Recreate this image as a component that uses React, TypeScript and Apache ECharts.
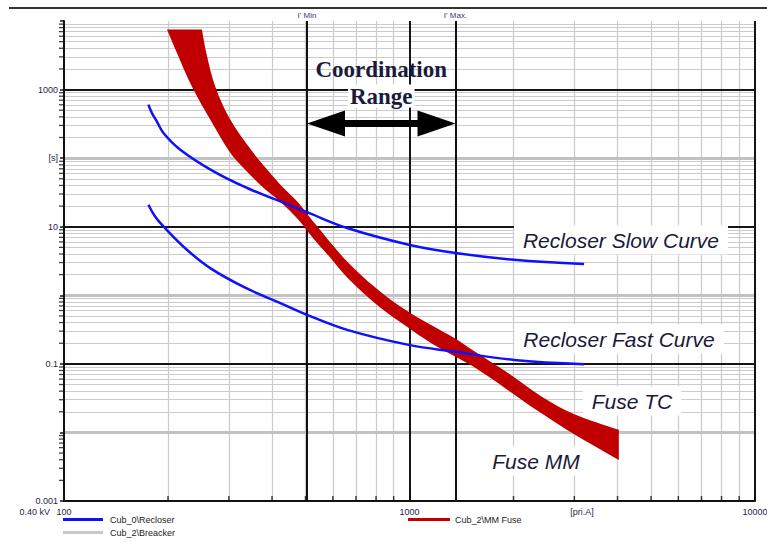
import React, { useEffect, useRef } from "react";
import * as echarts from "echarts";

// Recloser slow curve (current [A], time [s])
const slowCurrent = [175.5, 179.6, 185.6, 194, 217, 271, 339, 423, 505, 660, 995, 1359, 2006, 3201];
const slowTime = [604, 457, 344, 233, 133, 64.2, 36.7, 23.4, 16.3, 9.57, 5.46, 4.13, 3.3, 2.85];

// Recloser fast curve
const fastCurrent = [175.5, 183.5, 194, 226.8, 265, 334.6, 423, 505, 660, 995, 1359, 2006, 3201];
const fastTime = [20.9, 14.1, 10.1, 4.62, 2.49, 1.29, 0.769, 0.519, 0.313, 0.189, 0.15, 0.114, 0.099];

// Fuse total clearing (upper / right edge of band)
const fuseTcCurrent = [250.7, 258, 274, 302.8, 353, 387.6, 428.4, 476.8, 527, 661, 824, 993, 1151, 1359, 1533, 1923, 2397, 2988, 4035];
const fuseTcTime = [7516, 3467, 1106, 365, 120, 67.9, 38.4, 22.4, 11.8, 3.08, 1.125, 0.574, 0.371, 0.232, 0.155, 0.0739, 0.0341, 0.0186, 0.0109];

// Fuse minimum melt (lower / left edge of band)
const fuseMmCurrent = [198.6, 212, 234.5, 265, 302.8, 334.6, 374.9, 422.8, 476.8, 530.6, 590.2, 661.2, 824, 993, 1151, 1359, 1533, 1923, 2397, 2988, 4035];
const fuseMmTime = [7516, 3467, 1106, 365, 120, 67.9, 38.4, 23.2, 12.65, 6.46, 3.52, 1.8, 0.658, 0.336, 0.203, 0.1265, 0.0904, 0.0417, 0.0193, 0.0095, 0.00397];

// Coordination range limits [A]
const iMin = 505;
const iMax = 1359;
const arrowTime = 320;

// Axes
const xMin = 100;
const xMax = 10000;
const yMin = 0.001;
const yMax = 10000;
const mantissas = [2, 3, 4, 5, 6, 7, 8, 9];
const xDecades = [100, 1000];
const yDecades = [0.001, 0.01, 0.1, 1, 10, 100, 1000];
const yBlackDecades = [1000, 10, 0.1];
const yGrayDecades = [100, 1, 0.01];
const xBlackDecades = [1000, 10000];
const yTickLabels: Record<number, string> = { [-3]: "0.001", [-1]: "0.1", 1: "10", 2: "[s]", 3: "1000" };
const xTickLabels: Record<number, string> = { 2: "100", 3: "1000", 4: "10000" };

const legendNames = ["Cub_0\\Recloser", "Cub_2\\Breacker", "Cub_2\\MM Fuse"];

const TXT = "#1e1e46";
const SANS = "'Liberation Sans', Arial, sans-serif";

export default function App() {
  const ref = useRef<HTMLDivElement>(null);
  useEffect(() => {
    const chart = echarts.init(ref.current!, null, { renderer: "svg" });

    const xMinor: number[] = [];
    xDecades.forEach((d) => mantissas.forEach((m) => xMinor.push(d * m)));
    const yMinor: number[] = [];
    yDecades.forEach((d) => mantissas.forEach((m) => yMinor.push(d * m)));

    const gray = { color: "#cbcbcb", width: 1.2, type: "solid" };
    const gridLines: any[] = [];
    xMinor.forEach((v) => gridLines.push({ xAxis: v, lineStyle: gray }));
    yMinor.forEach((v) => gridLines.push({ yAxis: v, lineStyle: gray }));
    yGrayDecades.forEach((v) => gridLines.push({ yAxis: v, lineStyle: { color: "#c2c2c2", width: 3, type: "solid" } }));
    yBlackDecades.forEach((v) => gridLines.push({ yAxis: v, lineStyle: { color: "#151515", width: 2, type: "solid" } }));
    xBlackDecades.forEach((v) => gridLines.push({ xAxis: v, lineStyle: { color: "#151515", width: 2, type: "solid" } }));

    const logLabel = (map: Record<number, string>) => (v: number) => {
      const e = Math.round(Math.log10(v));
      return map[e] ?? "";
    };

    const option: any = {
      animation: false,
      backgroundColor: "#ffffff",
      grid: { left: 64, right: 12, top: 21, bottom: 41, outerBoundsMode: "none", containLabel: false },
      xAxis: {
        type: "log",
        logBase: 10,
        min: xMin,
        max: xMax,
        splitNumber: 2,
        z: 8,
        axisLine: { show: true, onZero: false, lineStyle: { color: "#111", width: 2 } },
        axisTick: { show: true, inside: true, length: 6, lineStyle: { color: "#111", width: 1.5 } },
        axisLabel: { formatter: logLabel(xTickLabels), fontSize: 9, color: TXT, margin: 6, fontFamily: SANS, showMinLabel: true, showMaxLabel: true, hideOverlap: false },
        splitLine: { show: false },
        minorTick: { show: false },
        minorSplitLine: { show: false },
      },
      yAxis: {
        type: "log",
        logBase: 10,
        min: yMin,
        max: yMax,
        splitNumber: 7,
        z: 8,
        axisLine: { show: true, onZero: false, lineStyle: { color: "#111", width: 2 } },
        axisTick: { show: true, inside: false, length: 4, lineStyle: { color: "#111", width: 1.5 } },
        axisLabel: { formatter: logLabel(yTickLabels), fontSize: 9, color: TXT, margin: 6, fontFamily: SANS, showMinLabel: true, showMaxLabel: true, hideOverlap: false },
        splitLine: { show: false },
        minorTick: { show: false },
        minorSplitLine: { show: false },
      },
      legend: [
        {
          data: [legendNames[0], legendNames[1]],
          orient: "vertical",
          left: 63,
          top: 515,
          itemWidth: 40,
          itemHeight: 3,
          itemGap: 4,
          icon: "rect",
          selectedMode: false,
          padding: 0,
          textStyle: { fontSize: 9, color: "#222", fontFamily: SANS, padding: [0, 0, 0, 2] },
        },
        {
          data: [legendNames[2]],
          orient: "vertical",
          left: 408,
          top: 515,
          itemWidth: 42,
          itemHeight: 3,
          icon: "rect",
          selectedMode: false,
          padding: 0,
          textStyle: { fontSize: 9, color: "#222", fontFamily: SANS },
        },
      ],
      series: [
        {
          type: "line",
          name: legendNames[1],
          data: [],
          z: 1,
          silent: true,
          clip: false,
          lineStyle: { color: "#c8c8c8", width: 2 },
          itemStyle: { color: "#c8c8c8" },
          markLine: {
            z: 1,
            silent: true,
            animation: false,
            symbol: ["none", "none"],
            label: { show: false },
            data: gridLines,
          },
        },
        {
          type: "line",
          name: "coordination",
          data: [],
          z: 2,
          silent: true,
          clip: false,
          markLine: {
            z: 2,
            silent: true,
            animation: false,
            symbol: ["none", "none"],
            lineStyle: { color: "#111", width: 2, type: "solid" },
            label: { show: true, position: "end", fontSize: 8, color: "#3a3a78", fontFamily: SANS, distance: 2 },
            data: [
              { xAxis: iMin, label: { formatter: "I' Min" } },
              { xAxis: iMax, label: { formatter: "I' Max." } },
            ],
          },
        },
        {
          type: "scatter",
          name: "xticks",
          data: xMinor.map((v) => [v, yMin]),
          symbol: "rect",
          symbolSize: [1.5, 5],
          symbolOffset: [0, -2.5],
          itemStyle: { color: "#111" },
          silent: true,
          clip: false,
          z: 6,
        },
        {
          type: "scatter",
          name: "yticks",
          data: yMinor.map((v) => [xMin, v]),
          symbol: "rect",
          symbolSize: [4, 1.3],
          symbolOffset: [-3, 0],
          itemStyle: { color: "#111" },
          silent: true,
          clip: false,
          z: 6,
        },
        {
          type: "custom",
          name: legendNames[2],
          coordinateSystem: "cartesian2d",
          data: [[fuseMmCurrent[0], fuseMmTime[0]]],
          encode: { x: 0, y: 1 },
          itemStyle: { color: "#c00000" },
          silent: true,
          z: 3,
          renderItem: (_params: any, api: any) => {
            const mm = fuseMmCurrent.map((c, i) => api.coord([c, fuseMmTime[i]]));
            const tc = fuseTcCurrent.map((c, i) => api.coord([c, fuseTcTime[i]]));
            const pts: number[][] = [];
            // duplicate the four corner points so smoothing keeps them sharp
            mm.forEach((p: number[], i: number) => {
              pts.push(p);
              if (i === 0 || i === mm.length - 1) pts.push([p[0], p[1]]);
            });
            for (let i = tc.length - 1; i >= 0; i--) {
              pts.push(tc[i]);
              if (i === 0 || i === tc.length - 1) pts.push([tc[i][0], tc[i][1]]);
            }
            return { type: "polygon", shape: { points: pts, smooth: 0.35 }, style: { fill: "#c00000" } };
          },
        },
        {
          type: "line",
          name: legendNames[0],
          data: slowCurrent.map((c, i) => [c, slowTime[i]]),
          showSymbol: false,
          smooth: 0.4,
          z: 4,
          silent: true,
          lineStyle: { color: "#1010ff", width: 2.5 },
          itemStyle: { color: "#1010ff" },
        },
        {
          type: "line",
          name: legendNames[0],
          data: fastCurrent.map((c, i) => [c, fastTime[i]]),
          showSymbol: false,
          smooth: 0.4,
          z: 4,
          silent: true,
          lineStyle: { color: "#1010ff", width: 2.5 },
          itemStyle: { color: "#1010ff" },
        },
      ],
    };
    chart.setOption(option);

    const x1 = chart.convertToPixel({ xAxisIndex: 0 }, iMin) as number;
    const x2 = chart.convertToPixel({ xAxisIndex: 0 }, iMax) as number;
    const ay = chart.convertToPixel({ yAxisIndex: 0 }, arrowTime) as number;
    const cx = (x1 + x2) / 2;
    const hl = 38;
    const hh = 13;
    const sh = 3.5;

    const italic = (text: string, x: number, y: number) => ({
      type: "text",
      z: 20,
      style: {
        text,
        x,
        y,
        align: "center",
        verticalAlign: "middle",
        font: `italic 21px ${SANS}`,
        fill: "#1a1a3a",
        backgroundColor: "#ffffff",
        padding: [4, 9],
      },
    });

    chart.setOption({
      graphic: [
        {
          type: "line",
          shape: { x1: 9, y1: 8, x2: 767, y2: 8 },
          style: { stroke: "#333", lineWidth: 2 },
        },
        {
          type: "polygon",
          z: 20,
          shape: {
            points: [
              [x1, ay],
              [x1 + hl, ay - hh],
              [x1 + hl, ay - sh],
              [x2 - hl, ay - sh],
              [x2 - hl, ay - hh],
              [x2, ay],
              [x2 - hl, ay + hh],
              [x2 - hl, ay + sh],
              [x1 + hl, ay + sh],
              [x1 + hl, ay + hh],
            ],
          },
          style: { fill: "#000" },
        },
        {
          type: "text",
          z: 20,
          style: {
            text: "Coordination",
            x: cx,
            y: 69,
            align: "center",
            verticalAlign: "middle",
            font: "bold 23px 'Liberation Serif', 'Times New Roman', serif",
            fill: "#1a1a3a",
          },
        },
        {
          type: "text",
          z: 20,
          style: {
            text: "Range",
            x: cx,
            y: 96,
            align: "center",
            verticalAlign: "middle",
            font: "bold 23px 'Liberation Serif', 'Times New Roman', serif",
            fill: "#1a1a3a",
            backgroundColor: "#ffffff",
            padding: [0, 2],
          },
        },
        italic("Recloser Slow Curve", 621, 240),
        italic("Recloser Fast Curve", 619, 339),
        italic("Fuse TC", 632, 401),
        italic("Fuse MM", 536, 461),
        {
          type: "text",
          style: { text: "[pri.A]", x: 582, y: 512, align: "center", verticalAlign: "middle", font: `9px ${SANS}`, fill: TXT },
        },
        {
          type: "text",
          style: { text: "0.40 kV", x: 50, y: 512, align: "right", verticalAlign: "middle", font: `9px ${SANS}`, fill: TXT },
        },
      ],
    });

    return () => chart.dispose();
  }, []);

  return (
    <div
      ref={ref}
      style={{ position: "fixed", left: 0, top: 0, width: 767, height: 542, background: "#fff" }}
    />
  );
}
